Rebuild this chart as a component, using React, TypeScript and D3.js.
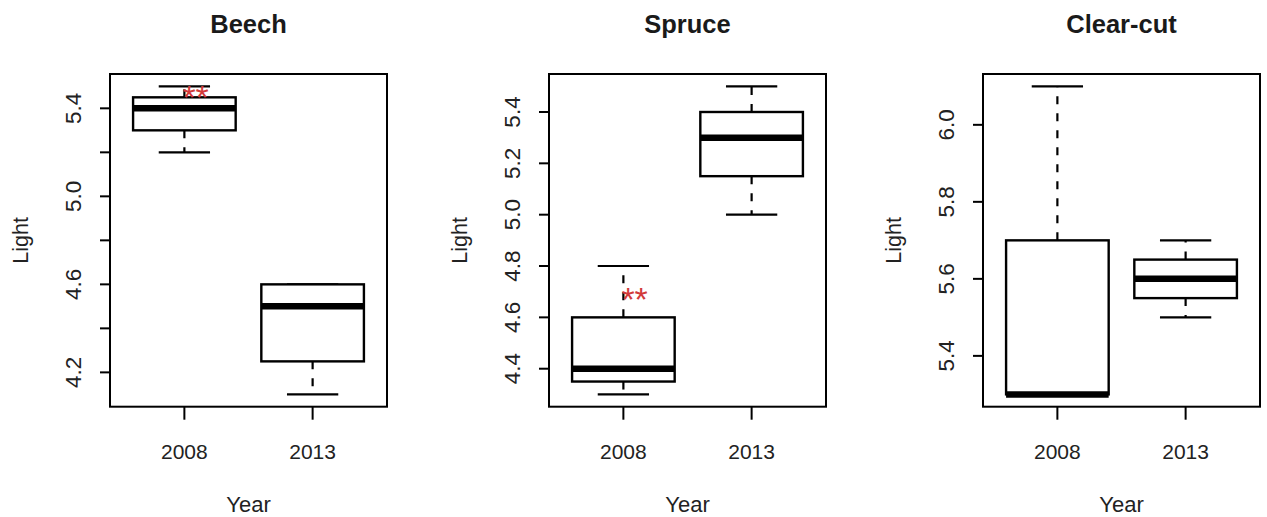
import React from "react";
import * as d3 from "d3";

// Site panels and the two survey years
const sites = ["Beech", "Spruce", "Clear-cut"];
const years = ["2008", "2013"];

// Box statistics per year: [lower whisker, Q1, median, Q3, upper whisker]
const beechStats = [
  [5.2, 5.3, 5.4, 5.45, 5.5],
  [4.1, 4.25, 4.5, 4.6, 4.6],
];
const spruceStats = [
  [4.3, 4.35, 4.4, 4.6, 4.8],
  [5.0, 5.15, 5.3, 5.4, 5.5],
];
const clearcutStats = [
  [5.3, 5.3, 5.3, 5.7, 6.1],
  [5.5, 5.55, 5.6, 5.65, 5.7],
];

// Y-axis ticks and their labels ("" = tick without label)
const beechTicks = [4.2, 4.4, 4.6, 4.8, 5.0, 5.2, 5.4];
const beechTickLabels = ["4.2", "", "4.6", "", "5.0", "", "5.4"];
const spruceTicks = [4.4, 4.6, 4.8, 5.0, 5.2, 5.4];
const spruceTickLabels = ["4.4", "4.6", "4.8", "5.0", "5.2", "5.4"];
const clearcutTicks = [5.4, 5.6, 5.8, 6.0];
const clearcutTickLabels = ["5.4", "5.6", "5.8", "6.0"];

// Significance marks: panel index, year index, label height (value units)
const sigPanels = [0, 1];
const sigYears = [0, 0];
const sigValues = [5.485, 4.7];
const sigLabels = ["**", "**"];

const W = 1267;
const H = 517;
const FONT = "'Liberation Sans', Arial, sans-serif";
const plotLefts = [110, 549, 983];
const plotWidth = 277;
const plotTop = 74;
const plotBottom = 406.7;

const panelStats = [beechStats, spruceStats, clearcutStats];
const panelTicks = [beechTicks, spruceTicks, clearcutTicks];
const panelTickLabels = [beechTickLabels, spruceTickLabels, clearcutTickLabels];

function Panel({ index }: { index: number }) {
  const stats = panelStats[index];
  const left = plotLefts[index];
  const right = left + plotWidth;

  // R-style axis range: data extent padded by 4% on each side
  const lo = d3.min(stats, (s) => s[0]) as number;
  const hi = d3.max(stats, (s) => s[4]) as number;
  const pad = (hi - lo) * 0.04;
  const y = d3.scaleLinear().domain([lo - pad, hi + pad]).range([plotBottom, plotTop]);
  const x = d3.scaleLinear().domain([0.42, 2.58]).range([left, right]);

  const boxW = (x(2) - x(1)) * 0.8;
  const stapleW = boxW / 2;
  const cx = (left + right) / 2;
  const cy = (plotTop + plotBottom) / 2;

  return (
    <g>
      <text x={cx} y={33} textAnchor="middle" fontFamily={FONT} fontWeight="bold" fontSize={25.5} fill="#1a1a1a">
        {sites[index]}
      </text>

      {stats.map((s, i) => {
        const xc = x(i + 1);
        const [wl, q1, med, q3, wh] = s;
        return (
          <g key={i}>
            {wh > q3 && (
              <line x1={xc} x2={xc} y1={y(q3)} y2={y(wh)} stroke="#000" strokeWidth={2.2} strokeDasharray="8 9" />
            )}
            {wl < q1 && (
              <line x1={xc} x2={xc} y1={y(q1)} y2={y(wl)} stroke="#000" strokeWidth={2.2} strokeDasharray="8 9" />
            )}
            <line x1={xc - stapleW / 2} x2={xc + stapleW / 2} y1={y(wh)} y2={y(wh)} stroke="#000" strokeWidth={2.2} />
            <line x1={xc - stapleW / 2} x2={xc + stapleW / 2} y1={y(wl)} y2={y(wl)} stroke="#000" strokeWidth={2.2} />
            <rect
              x={xc - boxW / 2}
              y={y(q3)}
              width={boxW}
              height={Math.max(0.01, y(q1) - y(q3))}
              fill="#fff"
              stroke="#000"
              strokeWidth={2.4}
            />
            <line x1={xc - boxW / 2} x2={xc + boxW / 2} y1={y(med)} y2={y(med)} stroke="#000" strokeWidth={6.5} />
          </g>
        );
      })}

      {sigPanels.map((p, k) =>
        p === index ? (
          <text
            key={k}
            x={x(sigYears[k] + 1) - 2}
            y={y(sigValues[k])}
            dy="0.57em"
            fontFamily={FONT}
            fontSize={34}
            fill="#d23a3a"
          >
            {sigLabels[k]}
          </text>
        ) : null
      )}

      <rect x={left} y={plotTop} width={plotWidth} height={plotBottom - plotTop} fill="none" stroke="#000" strokeWidth={2} />

      {/* y axis */}
      {panelTicks[index].map((t, i) => (
        <g key={i}>
          <line x1={left - 10} x2={left} y1={y(t)} y2={y(t)} stroke="#000" strokeWidth={2} />
          {panelTickLabels[index][i] && (
            <text
              transform={`translate(${left - 29},${y(t)}) rotate(-90)`}
              textAnchor="middle"
              fontFamily={FONT}
              fontSize={22.5}
              fill="#222"
            >
              {panelTickLabels[index][i]}
            </text>
          )}
        </g>
      ))}
      <text
        transform={`translate(${left - 82},${cy}) rotate(-90)`}
        textAnchor="middle"
        fontFamily={FONT}
        fontSize={21.5}
        fill="#222"
      >
        Light
      </text>

      {/* x axis */}
      {years.map((yr, i) => (
        <g key={yr}>
          <line x1={x(i + 1)} x2={x(i + 1)} y1={plotBottom} y2={plotBottom + 13} stroke="#000" strokeWidth={2} />
          <text x={x(i + 1)} y={plotBottom + 52.6} textAnchor="middle" fontFamily={FONT} fontSize={21} fill="#222">
            {yr}
          </text>
        </g>
      ))}
      <text x={cx} y={plotBottom + 105.5} textAnchor="middle" fontFamily={FONT} fontSize={22} fill="#222">
        Year
      </text>
    </g>
  );
}

export default function App() {
  return (
    <svg
      width={W}
      height={H}
      viewBox={`0 0 ${W} ${H}`}
      style={{ position: "absolute", left: 0, top: 0, background: "#fff" }}
    >
      <rect width={W} height={H} fill="#fff" />
      {sites.map((_, i) => (
        <Panel key={i} index={i} />
      ))}
    </svg>
  );
}
